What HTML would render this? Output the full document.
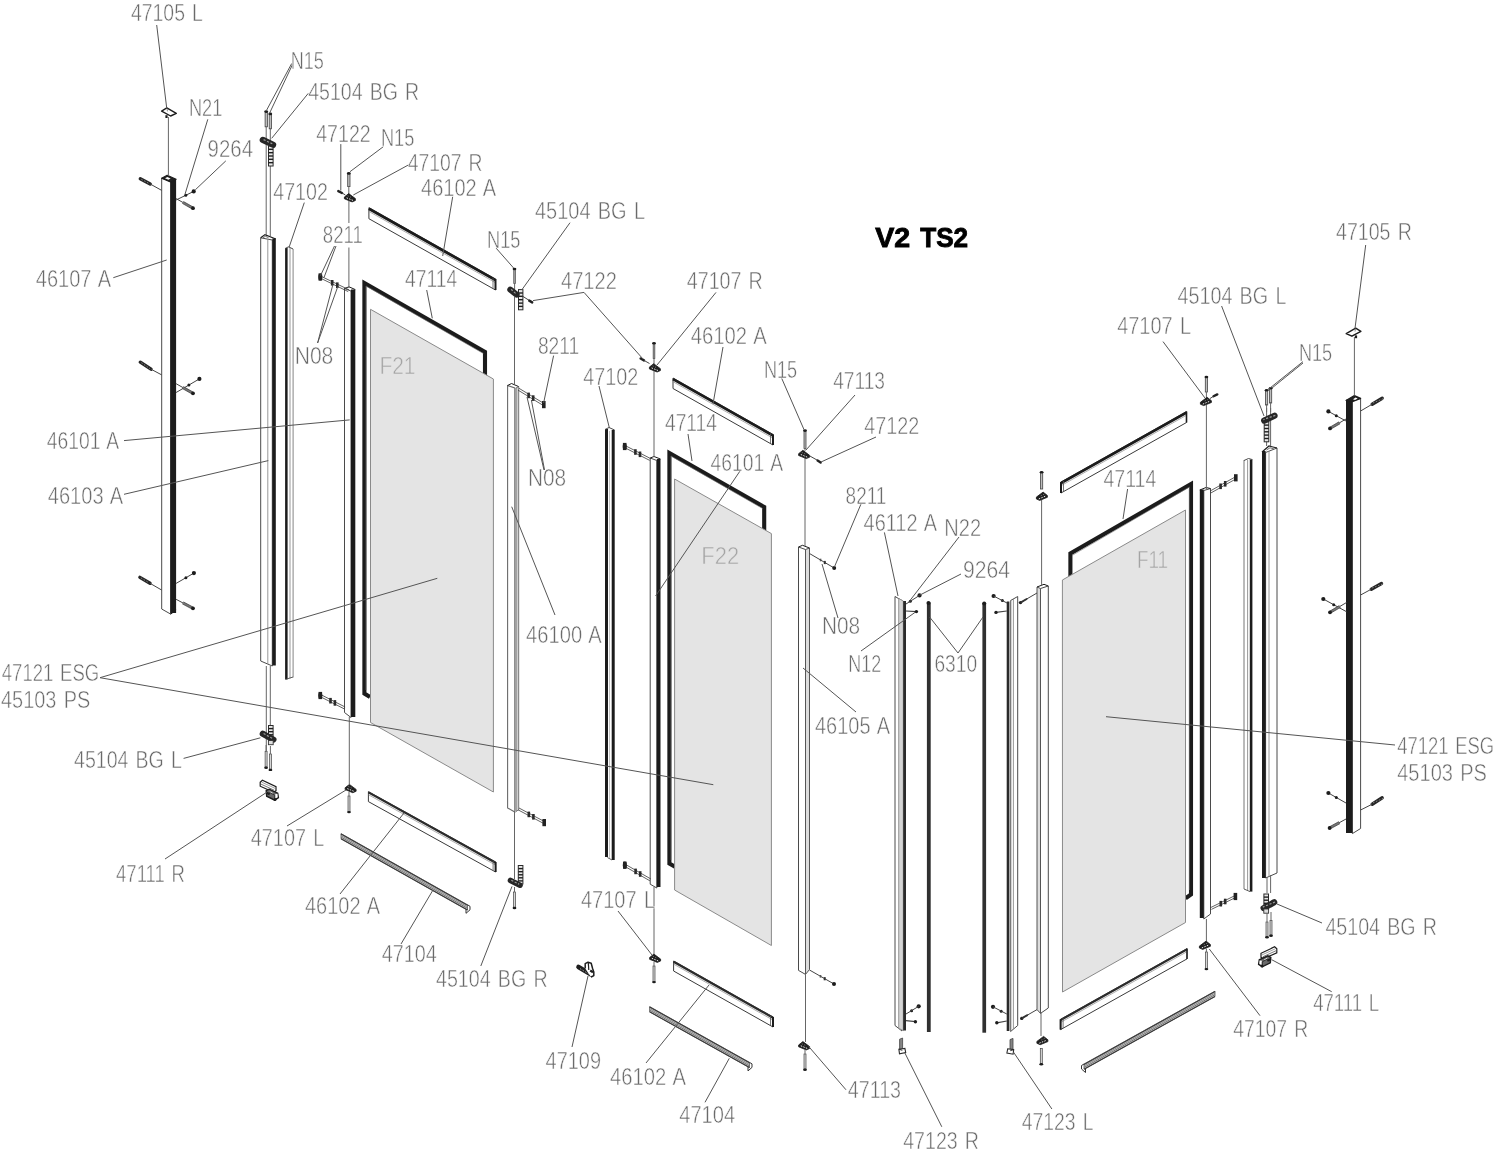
<!DOCTYPE html>
<html><head><meta charset="utf-8"><title>V2 TS2</title><style>html,body{margin:0;padding:0;background:#fff}
svg{display:block;filter:grayscale(1)}
text{font-family:"Liberation Sans",sans-serif}
.t{word-spacing:2px;font-size:23px;fill:#6a6a6a;stroke:#fff;stroke-width:.5px;paint-order:fill stroke}
.tf{font-size:23px;fill:#a4a4a4;stroke:#e4e4e4;stroke-width:.5px}
.ttl{font-size:28.5px;font-weight:bold;fill:#000;stroke:#000;stroke-width:.9px}
</style></head><body>
<svg width="1500" height="1154" viewBox="0 0 1500 1154">
<rect width="1500" height="1154" fill="#fff"/>
<polyline points="370,697 364.4,693.5 364.4,283 485,352 485,380" fill="none" stroke="#1c1c1c" stroke-width="4.1" stroke-linejoin="miter"/>
<polyline points="675,866.8 669.4,863.5 669.4,453 764.2,507 764.2,535" fill="none" stroke="#1c1c1c" stroke-width="4.1" stroke-linejoin="miter"/>
<polyline points="1185.6,898.2 1191,894.5 1191,484 1070.4,553.5 1070.4,578" fill="none" stroke="#1c1c1c" stroke-width="4.1" stroke-linejoin="miter"/>
<polyline points="366,690 366,286 483.4,353.5" fill="none" stroke="#777" stroke-width="0.6"/>
<polyline points="671,860 671,456 762.6,508.5" fill="none" stroke="#777" stroke-width="0.6"/>
<polyline points="1189.4,890 1189.4,487 1072,555.5" fill="none" stroke="#777" stroke-width="0.6"/>
<polygon points="370.5,309.3 493.4,379 493.4,792 370.5,722.5" fill="#e4e4e4" stroke="#8a8a8a" stroke-width="1"/>
<polygon points="674.6,479 771.4,533.6 771.4,945.5 674.6,890" fill="#e4e4e4" stroke="#8a8a8a" stroke-width="1"/>
<polygon points="1062.4,580 1185.5,510 1185.5,922.5 1062.5,992" fill="#e4e4e4" stroke="#8a8a8a" stroke-width="1"/>
<polygon points="368.9,207.7 495.5,279 495.5,290 368.9,218.7" fill="#fff" stroke="#3a3a3a" stroke-width="1"/>
<line x1="368.9" y1="208.8" x2="495.5" y2="280.1" stroke="#1c1c1c" stroke-width="2.8"/>
<line x1="368.9" y1="211.4" x2="495.5" y2="282.7" stroke="#888" stroke-width="0.7"/>
<line x1="495.5" y1="279" x2="495.5" y2="290" stroke="#1c1c1c" stroke-width="2"/>
<line x1="493" y1="278" x2="493" y2="288.5" stroke="#555" stroke-width="0.8"/>
<polygon points="673,378 773,434.5 773,445 673,388.5" fill="#fff" stroke="#3a3a3a" stroke-width="1"/>
<line x1="673" y1="379.1" x2="773" y2="435.6" stroke="#1c1c1c" stroke-width="2.8"/>
<line x1="673" y1="381.7" x2="773" y2="438.2" stroke="#888" stroke-width="0.7"/>
<line x1="773" y1="434.5" x2="773" y2="445" stroke="#1c1c1c" stroke-width="2"/>
<line x1="770.5" y1="433.5" x2="770.5" y2="443.5" stroke="#555" stroke-width="0.8"/>
<polygon points="1061,482 1186.5,411.5 1186.5,422.5 1061,493" fill="#fff" stroke="#3a3a3a" stroke-width="1"/>
<line x1="1061" y1="483.1" x2="1186.5" y2="412.6" stroke="#1c1c1c" stroke-width="2.8"/>
<line x1="1061" y1="485.7" x2="1186.5" y2="415.2" stroke="#888" stroke-width="0.7"/>
<line x1="1061" y1="482" x2="1061" y2="493" stroke="#1c1c1c" stroke-width="2"/>
<line x1="1063.5" y1="481" x2="1063.5" y2="491.5" stroke="#555" stroke-width="0.8"/>
<line x1="1186.5" y1="411.5" x2="1186.5" y2="422.5" stroke="#1c1c1c" stroke-width="1.6"/>
<polygon points="368.4,791.6 495.6,862 495.6,872 368.4,801.6" fill="#fff" stroke="#3a3a3a" stroke-width="1"/>
<line x1="368.4" y1="792.4" x2="495.6" y2="862.8" stroke="#2c2c2c" stroke-width="2.2"/>
<line x1="368.4" y1="794.7" x2="495.6" y2="865.1" stroke="#888" stroke-width="0.7"/>
<line x1="495.6" y1="862" x2="495.6" y2="872" stroke="#1c1c1c" stroke-width="2"/>
<line x1="493.1" y1="861" x2="493.1" y2="870.5" stroke="#555" stroke-width="0.8"/>
<polygon points="673.6,961 773,1017 773,1027 673.6,971" fill="#fff" stroke="#3a3a3a" stroke-width="1"/>
<line x1="673.6" y1="961.8" x2="773" y2="1017.8" stroke="#2c2c2c" stroke-width="2.2"/>
<line x1="673.6" y1="964.1" x2="773" y2="1020.1" stroke="#888" stroke-width="0.7"/>
<line x1="773" y1="1017" x2="773" y2="1027" stroke="#1c1c1c" stroke-width="2"/>
<line x1="770.5" y1="1016" x2="770.5" y2="1025.5" stroke="#555" stroke-width="0.8"/>
<polygon points="1060.6,1019.3 1187,948.6 1187,958.9 1060.6,1029.6" fill="#fff" stroke="#3a3a3a" stroke-width="1"/>
<line x1="1060.6" y1="1020.1" x2="1187" y2="949.4" stroke="#2c2c2c" stroke-width="2.2"/>
<line x1="1060.6" y1="1022.4" x2="1187" y2="951.7" stroke="#888" stroke-width="0.7"/>
<line x1="1060.6" y1="1019.3" x2="1060.6" y2="1029.6" stroke="#1c1c1c" stroke-width="2"/>
<line x1="1063.1" y1="1018.3" x2="1063.1" y2="1028.1" stroke="#555" stroke-width="0.8"/>
<line x1="1187" y1="948.6" x2="1187" y2="959" stroke="#1c1c1c" stroke-width="1.4"/>
<polygon points="341,833.6 467.5,904.8 467.5,910 341,838.8" fill="#d6d6d6" stroke="#555" stroke-width="0.8"/>
<line x1="341" y1="834" x2="467.5" y2="905.2" stroke="#3a3a3a" stroke-width="1.2"/>
<line x1="341" y1="835.6" x2="467.5" y2="906.8" stroke="#777" stroke-width="0.8"/>
<line x1="341" y1="837.1" x2="467.5" y2="908.3" stroke="#666" stroke-width="0.9"/>
<line x1="341" y1="838.8" x2="467.5" y2="910" stroke="#3a3a3a" stroke-width="1.1"/>
<polyline points="467.5,904.8 470,906.3 470,909.8 466,913.3 466,909.3" fill="none" stroke="#333" stroke-width="1"/>
<polygon points="649.6,1006.6 749.5,1062.4 749.5,1067.6 649.6,1011.8" fill="#d6d6d6" stroke="#555" stroke-width="0.8"/>
<line x1="649.6" y1="1007" x2="749.5" y2="1062.8" stroke="#3a3a3a" stroke-width="1.2"/>
<line x1="649.6" y1="1008.6" x2="749.5" y2="1064.4" stroke="#777" stroke-width="0.8"/>
<line x1="649.6" y1="1010.1" x2="749.5" y2="1065.9" stroke="#666" stroke-width="0.9"/>
<line x1="649.6" y1="1011.8" x2="749.5" y2="1067.6" stroke="#3a3a3a" stroke-width="1.1"/>
<polyline points="749.5,1062.4 752,1063.9 752,1067.4 748,1070.9 748,1066.9" fill="none" stroke="#333" stroke-width="1"/>
<polygon points="1084,1064 1215,991.2 1215,996.4 1084,1069.2" fill="#d6d6d6" stroke="#555" stroke-width="0.8"/>
<line x1="1084" y1="1064.4" x2="1215" y2="991.6" stroke="#3a3a3a" stroke-width="1.2"/>
<line x1="1084" y1="1066" x2="1215" y2="993.2" stroke="#777" stroke-width="0.8"/>
<line x1="1084" y1="1067.5" x2="1215" y2="994.7" stroke="#666" stroke-width="0.9"/>
<line x1="1084" y1="1069.2" x2="1215" y2="996.4" stroke="#3a3a3a" stroke-width="1.1"/>
<polyline points="1084,1064 1081.5,1065.5 1081.5,1069 1085.5,1072.5 1085.5,1068.5" fill="none" stroke="#333" stroke-width="1"/>
<polygon points="161.7,178 170.5,181.5 170.5,614 161.7,609" fill="#fff" stroke="#4a4a4a" stroke-width="1"/>
<rect x="170.5" y="179.5" width="5.6" height="433.5" fill="#1c1c1c"/>
<polygon points="161.7,178.2 167.2,175.3 176.1,179.2 170.5,182" fill="#222" stroke="#1c1c1c" stroke-width="1.2" stroke-linejoin="round"/>
<polygon points="165,178.3 167.4,177.1 170.6,178.5 168.4,179.7" fill="#fff" stroke="none" stroke-width="0"/>
<polyline points="170.5,614.3 176.1,610" fill="none" stroke="#1c1c1c" stroke-width="1"/>
<polygon points="1352.4,401 1360.6,398.4 1360.6,828.5 1352.4,833.6" fill="#fff" stroke="#4a4a4a" stroke-width="1"/>
<rect x="1346" y="400" width="6.4" height="433" fill="#1c1c1c"/>
<polygon points="1346,400.4 1354.4,395.6 1360.6,398.4 1352.4,401.6" fill="#222" stroke="#1c1c1c" stroke-width="1.2" stroke-linejoin="round"/>
<polygon points="1353,399.3 1355.6,397.6 1357.6,398.5 1355,400" fill="#fff" stroke="none" stroke-width="0"/>
<polygon points="260.7,237.8 272.3,240 272.3,666 260.7,661" fill="#fff" stroke="#4a4a4a" stroke-width="1"/>
<line x1="267.8" y1="239" x2="267.8" y2="664" stroke="#8c8c8c" stroke-width="0.9"/>
<rect x="272.3" y="238.5" width="3.5" height="427" fill="#1c1c1c"/>
<polyline points="260.7,237.8 265,234.6 275.8,239" fill="none" stroke="#1c1c1c" stroke-width="1.2"/>
<polyline points="263,237.6 265.5,236.3 268.5,237.7" fill="none" stroke="#4a4a4a" stroke-width="0.8"/>
<polygon points="1265.6,452.5 1277,448 1277,873 1265.6,878" fill="#fff" stroke="#4a4a4a" stroke-width="1"/>
<line x1="1269" y1="451" x2="1269" y2="876.5" stroke="#8c8c8c" stroke-width="0.9"/>
<rect x="1262" y="451" width="3.6" height="427" fill="#1c1c1c"/>
<polyline points="1262,452 1269,446 1277,448" fill="none" stroke="#1c1c1c" stroke-width="1.2"/>
<polyline points="1266.5,450 1270,447.8 1273.8,448.8" fill="none" stroke="#4a4a4a" stroke-width="0.8"/>
<rect x="285.1" y="248" width="2.5" height="431.4" fill="#1c1c1c"/>
<line x1="290" y1="248" x2="290" y2="678.5" stroke="#8c8c8c" stroke-width="0.9"/>
<line x1="293.1" y1="249" x2="293.1" y2="677.5" stroke="#777" stroke-width="0.9"/>
<polyline points="285.1,248.5 288.5,246.8 293.1,249" fill="none" stroke="#4a4a4a" stroke-width="1"/>
<line x1="285.5" y1="679.4" x2="293.1" y2="677" stroke="#4a4a4a" stroke-width="0.9"/>
<rect x="605" y="429" width="3" height="428" fill="#1c1c1c"/>
<rect x="611.7" y="430" width="3" height="430" fill="#1c1c1c"/>
<line x1="609.5" y1="431" x2="609.5" y2="858" stroke="#b5b5b5" stroke-width="0.8"/>
<polyline points="605,429.5 609,427.5 614.6,430" fill="none" stroke="#4a4a4a" stroke-width="1"/>
<line x1="607.4" y1="857.5" x2="612" y2="860" stroke="#4a4a4a" stroke-width="0.9"/>
<line x1="1244" y1="460" x2="1244" y2="889" stroke="#666" stroke-width="0.9"/>
<line x1="1247.6" y1="460" x2="1247.6" y2="890" stroke="#8c8c8c" stroke-width="0.9"/>
<rect x="1249.8" y="459.5" width="2.6" height="432.1" fill="#1c1c1c"/>
<polyline points="1244,460.5 1248.5,458.5 1252.4,459.6" fill="none" stroke="#4a4a4a" stroke-width="1"/>
<line x1="1244" y1="889" x2="1250" y2="891.6" stroke="#4a4a4a" stroke-width="0.9"/>
<polygon points="344.5,288.5 351,291 351,717.5 344.5,712.5" fill="#fff" stroke="#4a4a4a" stroke-width="1"/>
<rect x="351" y="289.5" width="4.3" height="427.5" fill="#1c1c1c"/>
<polyline points="344.5,288.5 349,286.8 355.3,289.6" fill="none" stroke="#1c1c1c" stroke-width="1"/>
<polygon points="650.2,458 656.8,460.5 656.8,888 650.2,884.2" fill="#fff" stroke="#4a4a4a" stroke-width="1"/>
<rect x="656.8" y="459" width="3.7" height="428" fill="#1c1c1c"/>
<polyline points="650.2,458 654,456.5 660.5,459" fill="none" stroke="#1c1c1c" stroke-width="1"/>
<polygon points="1203.8,490.5 1210.5,488.5 1210.5,914 1203.8,919" fill="#fff" stroke="#4a4a4a" stroke-width="1"/>
<rect x="1199.8" y="489.5" width="4" height="428.5" fill="#1c1c1c"/>
<polyline points="1199.8,490 1206,487.5 1210.5,488.5" fill="none" stroke="#1c1c1c" stroke-width="1"/>
<polygon points="507.6,385.5 514.8,388 514.8,812 507.6,808" fill="#fff" stroke="#6a6a6a" stroke-width="1.1"/>
<polygon points="516,388 518.7,386.5 518.7,809.7 516,811.5" fill="#cfcfcf" stroke="#777" stroke-width="1"/>
<polyline points="507.6,385.5 511.5,383.5 518.5,386.5" fill="none" stroke="#1c1c1c" stroke-width="1"/>
<polygon points="798.5,547 805.5,549.5 805.5,974.4 798.5,970.4" fill="#fff" stroke="#4a4a4a" stroke-width="1"/>
<polygon points="805.5,549.5 809.5,548 809.5,969.5 805.5,974.4" fill="#dcdcdc" stroke="#555" stroke-width="1"/>
<polyline points="798.5,547 802.5,545.3 809.5,548" fill="none" stroke="#1c1c1c" stroke-width="1"/>
<polygon points="1040.5,588.5 1048.3,586 1048.3,1008 1040.5,1013.4" fill="#fff" stroke="#4a4a4a" stroke-width="1"/>
<polygon points="1037,587 1040.5,588.5 1040.5,1013.4 1037,1009.6" fill="#dcdcdc" stroke="#555" stroke-width="1"/>
<polyline points="1037,587 1044,584.3 1048.3,586" fill="none" stroke="#1c1c1c" stroke-width="1"/>
<polygon points="895,596.5 902,600.5 902,1031 895,1025.5" fill="#fff" stroke="#4a4a4a" stroke-width="1"/>
<polygon points="898.7,598.5 903.3,601 903.3,1030.5 898.7,1028.3" fill="#d4d4d4" stroke="#8c8c8c" stroke-width="0.9"/>
<rect x="903.2" y="601" width="2.8" height="429.5" fill="#2a2a2a"/>
<polygon points="1010.6,600.5 1017.7,596.5 1017.7,1025.5 1010.6,1031.5" fill="#fff" stroke="#4a4a4a" stroke-width="1"/>
<line x1="1013.4" y1="599" x2="1013.4" y2="1029" stroke="#8c8c8c" stroke-width="0.9"/>
<rect x="1006.7" y="601.5" width="2.7" height="429.5" fill="#2a2a2a"/>
<line x1="1010.8" y1="600.5" x2="1010.8" y2="1031" stroke="#8c8c8c" stroke-width="0.9"/>
<rect x="926.9" y="602.4" width="3.8" height="429.6" fill="#303030"/>
<rect x="982.4" y="603" width="3.7" height="429.7" fill="#303030"/>
<circle cx="928.5" cy="603" r="2" fill="#1c1c1c"/>
<circle cx="984.2" cy="603.5" r="2" fill="#1c1c1c"/>
<line x1="168.4" y1="117" x2="168.4" y2="176" stroke="#666" stroke-width="1"/>
<line x1="266.2" y1="126" x2="266.2" y2="235" stroke="#666" stroke-width="1"/>
<line x1="270.3" y1="128" x2="270.3" y2="236" stroke="#666" stroke-width="1"/>
<line x1="266.3" y1="666" x2="266.3" y2="751" stroke="#666" stroke-width="1"/>
<line x1="270.3" y1="666" x2="270.3" y2="725" stroke="#666" stroke-width="1"/>
<line x1="348.9" y1="201" x2="348.9" y2="223" stroke="#666" stroke-width="1"/>
<line x1="348.9" y1="247.5" x2="348.9" y2="288" stroke="#666" stroke-width="1"/>
<line x1="349.3" y1="717" x2="349.3" y2="784" stroke="#666" stroke-width="1"/>
<line x1="514.5" y1="297" x2="514.5" y2="384" stroke="#666" stroke-width="1"/>
<line x1="514.5" y1="812" x2="514.5" y2="879" stroke="#666" stroke-width="1"/>
<line x1="654" y1="371" x2="654" y2="457" stroke="#666" stroke-width="1"/>
<line x1="654" y1="887" x2="654" y2="954" stroke="#666" stroke-width="1"/>
<line x1="805" y1="458" x2="805" y2="546" stroke="#666" stroke-width="1"/>
<line x1="805.5" y1="974" x2="805.5" y2="1042" stroke="#666" stroke-width="1"/>
<line x1="1041.6" y1="500" x2="1041.6" y2="585" stroke="#666" stroke-width="1"/>
<line x1="1041" y1="1013" x2="1041" y2="1036" stroke="#666" stroke-width="1"/>
<line x1="1206.4" y1="405" x2="1206.4" y2="489" stroke="#666" stroke-width="1"/>
<line x1="1206.4" y1="919" x2="1206.4" y2="941" stroke="#666" stroke-width="1"/>
<line x1="1266.6" y1="408" x2="1266.6" y2="446" stroke="#666" stroke-width="1"/>
<line x1="1270.6" y1="408" x2="1270.6" y2="446" stroke="#666" stroke-width="1"/>
<line x1="1267" y1="877" x2="1267" y2="893" stroke="#666" stroke-width="1"/>
<line x1="1270.6" y1="875" x2="1270.6" y2="893" stroke="#666" stroke-width="1"/>
<line x1="1354.4" y1="337" x2="1354.4" y2="395.6" stroke="#666" stroke-width="1"/>
<polygon points="161.6,111.1 166.8,107.9 176.3,113.4 170.6,116" fill="#fff" stroke="#1c1c1c" stroke-width="1.4" stroke-linejoin="round"/>
<rect x="165.4" y="115.2" width="2.2" height="2.8" fill="#1c1c1c"/>
<line x1="167" y1="108.4" x2="167.5" y2="111.4" stroke="#777" stroke-width="0.8"/>
<polygon points="1360.9,331.3 1355.7,328.1 1346.2,333.6 1351.9,336.2" fill="#fff" stroke="#1c1c1c" stroke-width="1.4" stroke-linejoin="round"/>
<rect x="1354.9" y="335.4" width="2.2" height="2.8" fill="#1c1c1c"/>
<line x1="1355.5" y1="328.6" x2="1355" y2="331.6" stroke="#777" stroke-width="0.8"/>
<line x1="140.3" y1="178.8" x2="150.2" y2="184" stroke="#262626" stroke-width="3.4" stroke-linecap="round"/>
<line x1="141.3" y1="179.3" x2="149.2" y2="183.5" stroke="#999" stroke-width="0.8" stroke-dasharray="1.6 1.6"/>
<line x1="150.2" y1="184" x2="161.7" y2="190.4" stroke="#444" stroke-width="1"/>
<line x1="176.1" y1="200" x2="193.7" y2="191.4" stroke="#444" stroke-width="1"/>
<circle cx="193.7" cy="191.4" r="2.1" fill="#1c1c1c"/>
<circle cx="185.8" cy="195.3" r="1.5" fill="#1c1c1c"/>
<line x1="176.1" y1="198.6" x2="193" y2="208.2" stroke="#444" stroke-width="1"/>
<line x1="182.9" y1="202.4" x2="193" y2="208.2" stroke="#777" stroke-width="2.2"/>
<line x1="182.3" y1="203.4" x2="192.5" y2="209.2" stroke="#333" stroke-width="0.7"/>
<line x1="183.4" y1="201.5" x2="193.5" y2="207.2" stroke="#333" stroke-width="0.7"/>
<circle cx="193" cy="208.2" r="1.9" fill="#1c1c1c"/>
<line x1="140.3" y1="362.2" x2="151" y2="369.2" stroke="#262626" stroke-width="3.4" stroke-linecap="round"/>
<line x1="141.3" y1="362.7" x2="150" y2="368.7" stroke="#999" stroke-width="0.8" stroke-dasharray="1.6 1.6"/>
<line x1="151" y1="369.2" x2="161.7" y2="374.9" stroke="#444" stroke-width="1"/>
<line x1="176.1" y1="392.5" x2="199.4" y2="378.9" stroke="#444" stroke-width="1"/>
<circle cx="199.4" cy="378.9" r="2.1" fill="#1c1c1c"/>
<circle cx="188.9" cy="385" r="1.5" fill="#1c1c1c"/>
<line x1="176.1" y1="383.7" x2="193" y2="393.3" stroke="#444" stroke-width="1"/>
<line x1="182.9" y1="387.5" x2="193" y2="393.3" stroke="#777" stroke-width="2.2"/>
<line x1="182.3" y1="388.5" x2="192.5" y2="394.3" stroke="#333" stroke-width="0.7"/>
<line x1="183.4" y1="386.6" x2="193.5" y2="392.3" stroke="#333" stroke-width="0.7"/>
<circle cx="193" cy="393.3" r="1.9" fill="#1c1c1c"/>
<line x1="139.9" y1="577.4" x2="150" y2="583.3" stroke="#262626" stroke-width="3.4" stroke-linecap="round"/>
<line x1="140.9" y1="577.9" x2="149" y2="582.8" stroke="#999" stroke-width="0.8" stroke-dasharray="1.6 1.6"/>
<line x1="150" y1="583.3" x2="161.6" y2="590" stroke="#444" stroke-width="1"/>
<line x1="176.1" y1="583.4" x2="193.9" y2="573.1" stroke="#444" stroke-width="1"/>
<circle cx="193.9" cy="573.1" r="2.1" fill="#1c1c1c"/>
<circle cx="185.9" cy="577.7" r="1.5" fill="#1c1c1c"/>
<line x1="176.1" y1="599.3" x2="193" y2="608.3" stroke="#444" stroke-width="1"/>
<line x1="182.9" y1="602.9" x2="193" y2="608.3" stroke="#777" stroke-width="2.2"/>
<line x1="182.3" y1="603.9" x2="192.5" y2="609.3" stroke="#333" stroke-width="0.7"/>
<line x1="183.4" y1="601.9" x2="193.5" y2="607.3" stroke="#333" stroke-width="0.7"/>
<circle cx="193" cy="608.3" r="1.9" fill="#1c1c1c"/>
<line x1="1382.2" y1="398.2" x2="1372.2" y2="404.2" stroke="#262626" stroke-width="3.4" stroke-linecap="round"/>
<line x1="1383.2" y1="398.7" x2="1371.2" y2="403.7" stroke="#999" stroke-width="0.8" stroke-dasharray="1.6 1.6"/>
<line x1="1372.2" y1="404.2" x2="1360.6" y2="411" stroke="#444" stroke-width="1"/>
<line x1="1346" y1="421" x2="1328.4" y2="411.4" stroke="#444" stroke-width="1"/>
<circle cx="1328.4" cy="411.4" r="2.1" fill="#1c1c1c"/>
<circle cx="1336.3" cy="415.7" r="1.5" fill="#1c1c1c"/>
<line x1="1346" y1="419" x2="1330" y2="428.4" stroke="#444" stroke-width="1"/>
<line x1="1339.6" y1="422.8" x2="1330" y2="428.4" stroke="#777" stroke-width="2.2"/>
<line x1="1339" y1="421.8" x2="1329.4" y2="427.5" stroke="#333" stroke-width="0.7"/>
<line x1="1340.2" y1="423.7" x2="1330.6" y2="429.3" stroke="#333" stroke-width="0.7"/>
<circle cx="1330" cy="428.4" r="1.9" fill="#1c1c1c"/>
<line x1="1381.5" y1="583.5" x2="1371.3" y2="589.2" stroke="#262626" stroke-width="3.4" stroke-linecap="round"/>
<line x1="1382.5" y1="584" x2="1370.3" y2="588.7" stroke="#999" stroke-width="0.8" stroke-dasharray="1.6 1.6"/>
<line x1="1371.3" y1="589.2" x2="1360.6" y2="595" stroke="#444" stroke-width="1"/>
<line x1="1346.5" y1="611.7" x2="1323.3" y2="599" stroke="#444" stroke-width="1"/>
<circle cx="1323.3" cy="599" r="2.1" fill="#1c1c1c"/>
<circle cx="1333.7" cy="604.7" r="1.5" fill="#1c1c1c"/>
<line x1="1346.5" y1="602.5" x2="1330" y2="612.3" stroke="#444" stroke-width="1"/>
<line x1="1339.9" y1="606.4" x2="1330" y2="612.3" stroke="#777" stroke-width="2.2"/>
<line x1="1339.3" y1="605.5" x2="1329.4" y2="611.4" stroke="#333" stroke-width="0.7"/>
<line x1="1340.5" y1="607.4" x2="1330.6" y2="613.2" stroke="#333" stroke-width="0.7"/>
<circle cx="1330" cy="612.3" r="1.9" fill="#1c1c1c"/>
<line x1="1382.2" y1="797.8" x2="1372.2" y2="804.2" stroke="#262626" stroke-width="3.4" stroke-linecap="round"/>
<line x1="1383.2" y1="798.3" x2="1371.2" y2="803.7" stroke="#999" stroke-width="0.8" stroke-dasharray="1.6 1.6"/>
<line x1="1372.2" y1="804.2" x2="1360.6" y2="810" stroke="#444" stroke-width="1"/>
<line x1="1346" y1="803" x2="1328.4" y2="793" stroke="#444" stroke-width="1"/>
<circle cx="1328.4" cy="793" r="2.1" fill="#1c1c1c"/>
<circle cx="1336.3" cy="797.5" r="1.5" fill="#1c1c1c"/>
<line x1="1346" y1="819" x2="1329.6" y2="828" stroke="#444" stroke-width="1"/>
<line x1="1339.4" y1="822.6" x2="1329.6" y2="828" stroke="#777" stroke-width="2.2"/>
<line x1="1338.9" y1="821.6" x2="1329.1" y2="827" stroke="#333" stroke-width="0.7"/>
<line x1="1340" y1="823.6" x2="1330.1" y2="829" stroke="#333" stroke-width="0.7"/>
<circle cx="1329.6" cy="828" r="1.9" fill="#1c1c1c"/>
<rect x="265.1" y="112" width="2.3" height="14.8" fill="#bdbdbd" stroke="#444" stroke-width="0.8"/>
<ellipse cx="266.2" cy="111.6" rx="1.9" ry="1.3" fill="#1c1c1c"/>
<rect x="269.2" y="114.3" width="2.3" height="14.5" fill="#bdbdbd" stroke="#444" stroke-width="0.8"/>
<ellipse cx="270.3" cy="113.9" rx="1.9" ry="1.3" fill="#1c1c1c"/>
<rect x="268.5" y="146" width="4.6" height="20" fill="#e8e8e8" stroke="#2a2a2a" stroke-width="1"/>
<line x1="268.5" y1="149.3" x2="273.1" y2="149.3" stroke="#1e1e1e" stroke-width="1.4"/>
<line x1="268.5" y1="152.7" x2="273.1" y2="152.7" stroke="#1e1e1e" stroke-width="1.4"/>
<line x1="268.5" y1="156" x2="273.1" y2="156" stroke="#1e1e1e" stroke-width="1.4"/>
<line x1="268.5" y1="159.3" x2="273.1" y2="159.3" stroke="#1e1e1e" stroke-width="1.4"/>
<line x1="268.5" y1="162.7" x2="273.1" y2="162.7" stroke="#1e1e1e" stroke-width="1.4"/>
<line x1="262.8" y1="139.9" x2="273.1" y2="144.8" stroke="#262626" stroke-width="6.2" stroke-linecap="round"/>
<line x1="263.6" y1="139.6" x2="272.3" y2="143.8" stroke="#9a9a9a" stroke-width="1.2" stroke-linecap="butt" stroke-dasharray="2.2 1.6"/>
<rect x="268.5" y="725.5" width="4.6" height="15.5" fill="#e8e8e8" stroke="#2a2a2a" stroke-width="1"/>
<line x1="268.5" y1="728.6" x2="273.1" y2="728.6" stroke="#1e1e1e" stroke-width="1.4"/>
<line x1="268.5" y1="731.7" x2="273.1" y2="731.7" stroke="#1e1e1e" stroke-width="1.4"/>
<line x1="268.5" y1="734.8" x2="273.1" y2="734.8" stroke="#1e1e1e" stroke-width="1.4"/>
<line x1="268.5" y1="737.9" x2="273.1" y2="737.9" stroke="#1e1e1e" stroke-width="1.4"/>
<line x1="262.8" y1="733.8" x2="273.4" y2="739.6" stroke="#262626" stroke-width="6.2" stroke-linecap="round"/>
<line x1="263.6" y1="733.5" x2="272.6" y2="738.6" stroke="#9a9a9a" stroke-width="1.2" stroke-linecap="butt" stroke-dasharray="2.2 1.6"/>
<rect x="268.4" y="740.5" width="4.8" height="4.2" fill="#ddd" stroke="#333" stroke-width="0.9"/>
<rect x="265.1" y="751.3" width="2" height="15.7" fill="#d6d6d6" stroke="#444" stroke-width="0.7"/>
<ellipse cx="266.1" cy="767.7" rx="1.9" ry="1.2" fill="#1c1c1c"/>
<rect x="269.4" y="754" width="2" height="15.2" fill="#d6d6d6" stroke="#444" stroke-width="0.7"/>
<ellipse cx="270.4" cy="769.9" rx="1.9" ry="1.2" fill="#1c1c1c"/>
<line x1="266.1" y1="745" x2="266.1" y2="751" stroke="#666" stroke-width="1"/>
<line x1="270.4" y1="746" x2="270.4" y2="754" stroke="#666" stroke-width="1"/>
<rect x="513.8" y="269.4" width="1.5" height="14.1" fill="#bdbdbd" stroke="#444" stroke-width="0.8"/>
<ellipse cx="514.5" cy="269" rx="1.9" ry="1.3" fill="#1c1c1c"/>
<line x1="514.6" y1="283" x2="514.6" y2="290" stroke="#666" stroke-width="1"/>
<rect x="518.5" y="289.6" width="4.4" height="20.2" fill="#e8e8e8" stroke="#2a2a2a" stroke-width="1"/>
<line x1="518.5" y1="293" x2="522.9" y2="293" stroke="#1e1e1e" stroke-width="1.4"/>
<line x1="518.5" y1="296.3" x2="522.9" y2="296.3" stroke="#1e1e1e" stroke-width="1.4"/>
<line x1="518.5" y1="299.7" x2="522.9" y2="299.7" stroke="#1e1e1e" stroke-width="1.4"/>
<line x1="518.5" y1="303.1" x2="522.9" y2="303.1" stroke="#1e1e1e" stroke-width="1.4"/>
<line x1="518.5" y1="306.4" x2="522.9" y2="306.4" stroke="#1e1e1e" stroke-width="1.4"/>
<line x1="510.3" y1="289.6" x2="516.6" y2="294.6" stroke="#262626" stroke-width="6" stroke-linecap="round"/>
<line x1="511.1" y1="289.3" x2="515.8" y2="293.6" stroke="#9a9a9a" stroke-width="1.2" stroke-linecap="butt" stroke-dasharray="2.2 1.6"/>
<line x1="529.2" y1="300.6" x2="532.2" y2="302.4" stroke="#222" stroke-width="2.4" stroke-linecap="round"/>
<line x1="522.6" y1="296.2" x2="529" y2="300.3" stroke="#444" stroke-width="1"/>
<rect x="518.3" y="865.5" width="4.6" height="18.5" fill="#e8e8e8" stroke="#2a2a2a" stroke-width="1"/>
<line x1="518.3" y1="868.6" x2="522.9" y2="868.6" stroke="#1e1e1e" stroke-width="1.4"/>
<line x1="518.3" y1="871.7" x2="522.9" y2="871.7" stroke="#1e1e1e" stroke-width="1.4"/>
<line x1="518.3" y1="874.8" x2="522.9" y2="874.8" stroke="#1e1e1e" stroke-width="1.4"/>
<line x1="518.3" y1="877.8" x2="522.9" y2="877.8" stroke="#1e1e1e" stroke-width="1.4"/>
<line x1="518.3" y1="880.9" x2="522.9" y2="880.9" stroke="#1e1e1e" stroke-width="1.4"/>
<line x1="510.5" y1="880.5" x2="520" y2="885.2" stroke="#262626" stroke-width="5.6" stroke-linecap="round"/>
<line x1="511.3" y1="880.2" x2="519.2" y2="884.2" stroke="#9a9a9a" stroke-width="1.2" stroke-linecap="butt" stroke-dasharray="2.2 1.6"/>
<rect x="513.5" y="892" width="2" height="15.3" fill="#d6d6d6" stroke="#444" stroke-width="0.7"/>
<ellipse cx="514.5" cy="908" rx="1.9" ry="1.2" fill="#1c1c1c"/>
<line x1="514.5" y1="887" x2="514.5" y2="892" stroke="#666" stroke-width="1"/>
<rect x="1265.4" y="390.6" width="2.3" height="14.4" fill="#bdbdbd" stroke="#444" stroke-width="0.8"/>
<ellipse cx="1266.6" cy="390.2" rx="1.9" ry="1.3" fill="#1c1c1c"/>
<rect x="1269.4" y="388.6" width="2.3" height="14.4" fill="#bdbdbd" stroke="#444" stroke-width="0.8"/>
<ellipse cx="1270.6" cy="388.2" rx="1.9" ry="1.3" fill="#1c1c1c"/>
<line x1="1266.6" y1="404" x2="1266.6" y2="412" stroke="#666" stroke-width="1"/>
<line x1="1270.6" y1="402" x2="1270.6" y2="412" stroke="#666" stroke-width="1"/>
<rect x="1264.2" y="421.8" width="4.6" height="20" fill="#e8e8e8" stroke="#2a2a2a" stroke-width="1"/>
<line x1="1264.2" y1="425.1" x2="1268.8" y2="425.1" stroke="#1e1e1e" stroke-width="1.4"/>
<line x1="1264.2" y1="428.5" x2="1268.8" y2="428.5" stroke="#1e1e1e" stroke-width="1.4"/>
<line x1="1264.2" y1="431.8" x2="1268.8" y2="431.8" stroke="#1e1e1e" stroke-width="1.4"/>
<line x1="1264.2" y1="435.1" x2="1268.8" y2="435.1" stroke="#1e1e1e" stroke-width="1.4"/>
<line x1="1264.2" y1="438.5" x2="1268.8" y2="438.5" stroke="#1e1e1e" stroke-width="1.4"/>
<line x1="1274.5" y1="415.7" x2="1264.2" y2="420.6" stroke="#262626" stroke-width="6.2" stroke-linecap="round"/>
<line x1="1275.3" y1="415.4" x2="1263.4" y2="419.6" stroke="#9a9a9a" stroke-width="1.2" stroke-linecap="butt" stroke-dasharray="2.2 1.6"/>
<rect x="1263.9" y="894" width="4.6" height="15.5" fill="#e8e8e8" stroke="#2a2a2a" stroke-width="1"/>
<line x1="1263.9" y1="897.1" x2="1268.5" y2="897.1" stroke="#1e1e1e" stroke-width="1.4"/>
<line x1="1263.9" y1="900.2" x2="1268.5" y2="900.2" stroke="#1e1e1e" stroke-width="1.4"/>
<line x1="1263.9" y1="903.3" x2="1268.5" y2="903.3" stroke="#1e1e1e" stroke-width="1.4"/>
<line x1="1263.9" y1="906.4" x2="1268.5" y2="906.4" stroke="#1e1e1e" stroke-width="1.4"/>
<line x1="1274.2" y1="902.3" x2="1263.6" y2="908.1" stroke="#262626" stroke-width="6.2" stroke-linecap="round"/>
<line x1="1275" y1="902" x2="1262.8" y2="907.1" stroke="#9a9a9a" stroke-width="1.2" stroke-linecap="butt" stroke-dasharray="2.2 1.6"/>
<rect x="1263.8" y="909" width="4.8" height="4.2" fill="#ddd" stroke="#333" stroke-width="0.9"/>
<rect x="1266" y="922" width="2" height="14.6" fill="#d6d6d6" stroke="#444" stroke-width="0.7"/>
<ellipse cx="1267" cy="937.3" rx="1.9" ry="1.2" fill="#1c1c1c"/>
<rect x="1270" y="920.5" width="2" height="14.5" fill="#d6d6d6" stroke="#444" stroke-width="0.7"/>
<ellipse cx="1271" cy="935.7" rx="1.9" ry="1.2" fill="#1c1c1c"/>
<line x1="1267" y1="913" x2="1267" y2="922" stroke="#666" stroke-width="1"/>
<line x1="1271" y1="912" x2="1271" y2="920" stroke="#666" stroke-width="1"/>
<rect x="347.7" y="173.8" width="2.3" height="12.8" fill="#bdbdbd" stroke="#444" stroke-width="0.8"/>
<ellipse cx="348.8" cy="173.4" rx="1.9" ry="1.3" fill="#1c1c1c"/>
<line x1="348.8" y1="186.6" x2="348.8" y2="194.5" stroke="#666" stroke-width="1"/>
<line x1="338.3" y1="191.1" x2="342" y2="193" stroke="#222" stroke-width="2.4" stroke-linecap="round"/>
<line x1="342" y1="193" x2="345.3" y2="194.9" stroke="#444" stroke-width="1"/>
<polygon points="344.4,197 348.7,193.6 355.4,198.6 355.4,200.5 352.1,201.9 344.4,198.8" fill="#1e1e1e" stroke="#1a1a1a" stroke-width="0.8" stroke-linejoin="round"/>
<line x1="346.6" y1="197.8" x2="353.2" y2="200.5" stroke="#f0f0f0" stroke-width="1" stroke-dasharray="1.5 1.2"/>
<line x1="347.6" y1="195.7" x2="352" y2="197.7" stroke="#999" stroke-width="0.7" stroke-dasharray="1.2 1.4"/>
<polygon points="345.1,787.8 349.4,784.4 356.1,789.4 356.1,791.3 352.8,792.7 345.1,789.6" fill="#1e1e1e" stroke="#1a1a1a" stroke-width="0.8" stroke-linejoin="round"/>
<line x1="347.3" y1="788.6" x2="353.9" y2="791.3" stroke="#f0f0f0" stroke-width="1" stroke-dasharray="1.5 1.2"/>
<line x1="348.3" y1="786.5" x2="352.7" y2="788.5" stroke="#999" stroke-width="0.7" stroke-dasharray="1.2 1.4"/>
<rect x="348" y="796" width="2" height="15.4" fill="#d6d6d6" stroke="#444" stroke-width="0.7"/>
<ellipse cx="349" cy="812.1" rx="1.9" ry="1.2" fill="#1c1c1c"/>
<line x1="349" y1="792" x2="349" y2="796" stroke="#666" stroke-width="1"/>
<rect x="653.2" y="343.6" width="1.6" height="14.9" fill="#bdbdbd" stroke="#444" stroke-width="0.8"/>
<ellipse cx="654" cy="343.2" rx="1.9" ry="1.3" fill="#1c1c1c"/>
<line x1="654" y1="358" x2="654" y2="364.5" stroke="#666" stroke-width="1"/>
<line x1="640.6" y1="358.5" x2="644" y2="360.4" stroke="#222" stroke-width="2.4" stroke-linecap="round"/>
<line x1="644" y1="360.4" x2="649.5" y2="363.5" stroke="#444" stroke-width="1"/>
<polygon points="649.4,367.1 653.7,363.7 660.4,368.7 660.4,370.6 657.1,372 649.4,368.9" fill="#1e1e1e" stroke="#1a1a1a" stroke-width="0.8" stroke-linejoin="round"/>
<line x1="651.6" y1="367.9" x2="658.2" y2="370.6" stroke="#f0f0f0" stroke-width="1" stroke-dasharray="1.5 1.2"/>
<line x1="652.6" y1="365.8" x2="657" y2="367.8" stroke="#999" stroke-width="0.7" stroke-dasharray="1.2 1.4"/>
<polygon points="649.6,957.5 653.9,954.1 660.6,959.1 660.6,961 657.3,962.4 649.6,959.3" fill="#1e1e1e" stroke="#1a1a1a" stroke-width="0.8" stroke-linejoin="round"/>
<line x1="651.8" y1="958.3" x2="658.4" y2="961" stroke="#f0f0f0" stroke-width="1" stroke-dasharray="1.5 1.2"/>
<line x1="652.8" y1="956.2" x2="657.2" y2="958.2" stroke="#999" stroke-width="0.7" stroke-dasharray="1.2 1.4"/>
<rect x="653" y="966" width="2" height="15.4" fill="#d6d6d6" stroke="#444" stroke-width="0.7"/>
<ellipse cx="654" cy="982.1" rx="1.9" ry="1.2" fill="#1c1c1c"/>
<line x1="654" y1="962" x2="654" y2="966" stroke="#666" stroke-width="1"/>
<rect x="804" y="431" width="2" height="17.5" fill="#bdbdbd" stroke="#444" stroke-width="0.8"/>
<ellipse cx="805" cy="430.6" rx="1.9" ry="1.3" fill="#1c1c1c"/>
<line x1="805" y1="448" x2="805" y2="451" stroke="#666" stroke-width="1"/>
<polygon points="798.6,453.7 802.9,450.3 809.6,455.3 809.6,457.2 806.3,458.6 798.6,455.5" fill="#1e1e1e" stroke="#1a1a1a" stroke-width="0.8" stroke-linejoin="round"/>
<line x1="800.8" y1="454.5" x2="807.4" y2="457.2" stroke="#f0f0f0" stroke-width="1" stroke-dasharray="1.5 1.2"/>
<line x1="801.8" y1="452.4" x2="806.2" y2="454.4" stroke="#999" stroke-width="0.7" stroke-dasharray="1.2 1.4"/>
<line x1="809" y1="455.5" x2="818" y2="460.6" stroke="#444" stroke-width="1"/>
<line x1="817.6" y1="460.6" x2="820.6" y2="462.6" stroke="#222" stroke-width="2.4" stroke-linecap="round"/>
<polygon points="798.6,1045 802.9,1041.6 809.6,1046.6 809.6,1048.5 806.3,1049.9 798.6,1046.8" fill="#1e1e1e" stroke="#1a1a1a" stroke-width="0.8" stroke-linejoin="round"/>
<line x1="800.8" y1="1045.8" x2="807.4" y2="1048.5" stroke="#f0f0f0" stroke-width="1" stroke-dasharray="1.5 1.2"/>
<line x1="801.8" y1="1043.7" x2="806.2" y2="1045.7" stroke="#999" stroke-width="0.7" stroke-dasharray="1.2 1.4"/>
<rect x="804" y="1054" width="2" height="15" fill="#d6d6d6" stroke="#444" stroke-width="0.7"/>
<ellipse cx="805" cy="1069.7" rx="1.9" ry="1.2" fill="#1c1c1c"/>
<line x1="805" y1="1049.5" x2="805" y2="1054" stroke="#666" stroke-width="1"/>
<rect x="1040.5" y="472.6" width="2.2" height="16.4" fill="#bdbdbd" stroke="#444" stroke-width="0.8"/>
<ellipse cx="1041.6" cy="472.2" rx="1.9" ry="1.3" fill="#1c1c1c"/>
<polygon points="1047.4,495.5 1043.1,492.1 1036.4,497.1 1036.4,499 1039.7,500.4 1047.4,497.3" fill="#1e1e1e" stroke="#1a1a1a" stroke-width="0.8" stroke-linejoin="round"/>
<line x1="1045.2" y1="496.3" x2="1038.6" y2="499" stroke="#f0f0f0" stroke-width="1" stroke-dasharray="1.5 1.2"/>
<line x1="1044.2" y1="494.2" x2="1039.8" y2="496.2" stroke="#999" stroke-width="0.7" stroke-dasharray="1.2 1.4"/>
<polygon points="1047.9,1039.8 1043.6,1036.4 1036.9,1041.4 1036.9,1043.3 1040.2,1044.7 1047.9,1041.6" fill="#1e1e1e" stroke="#1a1a1a" stroke-width="0.8" stroke-linejoin="round"/>
<line x1="1045.7" y1="1040.6" x2="1039.1" y2="1043.3" stroke="#f0f0f0" stroke-width="1" stroke-dasharray="1.5 1.2"/>
<line x1="1044.7" y1="1038.5" x2="1040.3" y2="1040.5" stroke="#999" stroke-width="0.7" stroke-dasharray="1.2 1.4"/>
<rect x="1040.3" y="1048.6" width="2" height="14.9" fill="#d6d6d6" stroke="#444" stroke-width="0.7"/>
<ellipse cx="1041.3" cy="1064.2" rx="1.9" ry="1.2" fill="#1c1c1c"/>
<rect x="1205.3" y="377.4" width="2.2" height="14.6" fill="#bdbdbd" stroke="#444" stroke-width="0.8"/>
<ellipse cx="1206.4" cy="377" rx="1.9" ry="1.3" fill="#1c1c1c"/>
<line x1="1206.4" y1="392" x2="1206.4" y2="398" stroke="#666" stroke-width="1"/>
<polygon points="1211.4,400.7 1207.1,397.3 1200.4,402.3 1200.4,404.2 1203.7,405.6 1211.4,402.5" fill="#1e1e1e" stroke="#1a1a1a" stroke-width="0.8" stroke-linejoin="round"/>
<line x1="1209.2" y1="401.5" x2="1202.6" y2="404.2" stroke="#f0f0f0" stroke-width="1" stroke-dasharray="1.5 1.2"/>
<line x1="1208.2" y1="399.4" x2="1203.8" y2="401.4" stroke="#999" stroke-width="0.7" stroke-dasharray="1.2 1.4"/>
<line x1="1213.5" y1="396.3" x2="1217.3" y2="394.4" stroke="#222" stroke-width="2.4" stroke-linecap="round"/>
<line x1="1210" y1="398.5" x2="1213.5" y2="396.3" stroke="#444" stroke-width="1"/>
<polygon points="1210.4,944.5 1206.1,941.1 1199.4,946.1 1199.4,948 1202.7,949.4 1210.4,946.3" fill="#1e1e1e" stroke="#1a1a1a" stroke-width="0.8" stroke-linejoin="round"/>
<line x1="1208.2" y1="945.3" x2="1201.6" y2="948" stroke="#f0f0f0" stroke-width="1" stroke-dasharray="1.5 1.2"/>
<line x1="1207.2" y1="943.2" x2="1202.8" y2="945.2" stroke="#999" stroke-width="0.7" stroke-dasharray="1.2 1.4"/>
<rect x="1205.4" y="952" width="2" height="16.4" fill="#d6d6d6" stroke="#444" stroke-width="0.7"/>
<ellipse cx="1206.4" cy="969.1" rx="1.9" ry="1.2" fill="#1c1c1c"/>
<line x1="1206.4" y1="948.5" x2="1206.4" y2="952" stroke="#666" stroke-width="1"/>
<line x1="319.9" y1="277.9" x2="348.2" y2="291.6" stroke="#3a3a3a" stroke-width="0.8"/>
<line x1="320.7" y1="276.1" x2="349" y2="289.8" stroke="#3a3a3a" stroke-width="0.8"/>
<rect x="330.9" y="280" width="2.6" height="5.6" fill="#2a2a2a"/>
<rect x="336" y="282.4" width="2.6" height="5.6" fill="#2a2a2a"/>
<rect x="318.5" y="273.4" width="3.6" height="7.2" fill="#222"/>
<ellipse cx="320.3" cy="277" rx="2" ry="3.6" fill="#222"/>
<line x1="319.8" y1="696.4" x2="344.1" y2="708.8" stroke="#3a3a3a" stroke-width="0.8"/>
<line x1="320.8" y1="694.6" x2="345.1" y2="707" stroke="#3a3a3a" stroke-width="0.8"/>
<rect x="329.2" y="697.9" width="2.6" height="5.6" fill="#2a2a2a"/>
<rect x="333.6" y="700.1" width="2.6" height="5.6" fill="#2a2a2a"/>
<rect x="318.5" y="691.9" width="3.6" height="7.2" fill="#222"/>
<ellipse cx="320.3" cy="695.5" rx="2" ry="3.6" fill="#222"/>
<line x1="544.3" y1="403.7" x2="519" y2="388.3" stroke="#3a3a3a" stroke-width="0.8"/>
<line x1="543.3" y1="405.5" x2="518" y2="390.1" stroke="#3a3a3a" stroke-width="0.8"/>
<rect x="531.9" y="395.3" width="2.6" height="5.6" fill="#2a2a2a"/>
<rect x="527.3" y="392.6" width="2.6" height="5.6" fill="#2a2a2a"/>
<rect x="542" y="401" width="3.6" height="7.2" fill="#222"/>
<line x1="544.7" y1="821.7" x2="519" y2="808" stroke="#3a3a3a" stroke-width="0.8"/>
<line x1="543.7" y1="823.5" x2="518" y2="809.8" stroke="#3a3a3a" stroke-width="0.8"/>
<rect x="532.1" y="814" width="2.6" height="5.6" fill="#2a2a2a"/>
<rect x="527.5" y="811.6" width="2.6" height="5.6" fill="#2a2a2a"/>
<rect x="542.4" y="819" width="3.6" height="7.2" fill="#222"/>
<line x1="624.2" y1="447.4" x2="649.7" y2="460.4" stroke="#3a3a3a" stroke-width="0.8"/>
<line x1="625.2" y1="445.6" x2="650.7" y2="458.6" stroke="#3a3a3a" stroke-width="0.8"/>
<rect x="634.1" y="449.2" width="2.6" height="5.6" fill="#2a2a2a"/>
<rect x="638.7" y="451.5" width="2.6" height="5.6" fill="#2a2a2a"/>
<rect x="622.9" y="442.9" width="3.6" height="7.2" fill="#222"/>
<ellipse cx="624.7" cy="446.5" rx="2" ry="3.6" fill="#222"/>
<line x1="624.3" y1="866.1" x2="649.9" y2="880.8" stroke="#3a3a3a" stroke-width="0.8"/>
<line x1="625.3" y1="864.3" x2="650.9" y2="879" stroke="#3a3a3a" stroke-width="0.8"/>
<rect x="634.3" y="868.6" width="2.6" height="5.6" fill="#2a2a2a"/>
<rect x="638.9" y="871.2" width="2.6" height="5.6" fill="#2a2a2a"/>
<rect x="623" y="861.6" width="3.6" height="7.2" fill="#222"/>
<ellipse cx="624.8" cy="865.2" rx="2" ry="3.6" fill="#222"/>
<line x1="1235.3" y1="476.9" x2="1210" y2="491.1" stroke="#3a3a3a" stroke-width="0.8"/>
<line x1="1236.3" y1="478.7" x2="1211" y2="492.9" stroke="#3a3a3a" stroke-width="0.8"/>
<rect x="1223.9" y="481" width="2.6" height="5.6" fill="#2a2a2a"/>
<rect x="1219.3" y="483.5" width="2.6" height="5.6" fill="#2a2a2a"/>
<rect x="1234" y="474.2" width="3.6" height="7.2" fill="#222"/>
<line x1="1235" y1="895.6" x2="1210.6" y2="907.6" stroke="#3a3a3a" stroke-width="0.8"/>
<line x1="1235.8" y1="897.4" x2="1211.4" y2="909.4" stroke="#3a3a3a" stroke-width="0.8"/>
<rect x="1223.9" y="898.7" width="2.6" height="5.6" fill="#2a2a2a"/>
<rect x="1219.5" y="900.9" width="2.6" height="5.6" fill="#2a2a2a"/>
<rect x="1233.6" y="892.9" width="3.6" height="7.2" fill="#222"/>
<line x1="809.5" y1="553.5" x2="834.2" y2="568" stroke="#444" stroke-width="1"/>
<circle cx="834.2" cy="568" r="2" fill="#1c1c1c"/>
<rect x="823.8" y="560.9" width="2" height="3.2" fill="#333"/>
<rect x="819.8" y="558.7" width="1.6" height="2.6" fill="#555"/>
<line x1="809.5" y1="970" x2="834" y2="984" stroke="#444" stroke-width="1"/>
<circle cx="834" cy="984" r="2" fill="#1c1c1c"/>
<rect x="823.7" y="977.1" width="2" height="3.2" fill="#333"/>
<rect x="819.7" y="975" width="1.6" height="2.6" fill="#555"/>
<line x1="1037" y1="593" x2="1020.5" y2="602.6" stroke="#444" stroke-width="1"/>
<circle cx="1020.5" cy="602.6" r="1.7" fill="#1c1c1c"/>
<line x1="1020.5" y1="602.6" x2="1027.1" y2="598.8" stroke="#333" stroke-width="1.8"/>
<line x1="1037" y1="1009.6" x2="1021.7" y2="1018.4" stroke="#444" stroke-width="1"/>
<circle cx="1021.7" cy="1018.4" r="1.7" fill="#1c1c1c"/>
<line x1="1021.7" y1="1018.4" x2="1027.8" y2="1014.9" stroke="#333" stroke-width="1.8"/>
<circle cx="919.5" cy="595.4" r="2.1" fill="#1c1c1c"/>
<circle cx="910.3" cy="601.2" r="1.5" fill="#1c1c1c"/>
<line x1="906" y1="604" x2="919.5" y2="595.4" stroke="#444" stroke-width="1"/>
<line x1="906" y1="611" x2="916.4" y2="611.6" stroke="#444" stroke-width="1.2"/>
<circle cx="916.4" cy="611.6" r="1.7" fill="#1c1c1c"/>
<circle cx="918.7" cy="1006.3" r="2.1" fill="#1c1c1c"/>
<circle cx="911.6" cy="1010.7" r="1.5" fill="#1c1c1c"/>
<line x1="906" y1="1014" x2="918.7" y2="1006.3" stroke="#444" stroke-width="1"/>
<line x1="906" y1="1020.6" x2="915.4" y2="1021.7" stroke="#444" stroke-width="1.2"/>
<circle cx="915.4" cy="1021.7" r="1.7" fill="#1c1c1c"/>
<circle cx="993.6" cy="596" r="2.1" fill="#1c1c1c"/>
<circle cx="1002.4" cy="600.6" r="1.5" fill="#1c1c1c"/>
<line x1="993.6" y1="596" x2="1007" y2="603" stroke="#444" stroke-width="1"/>
<line x1="996" y1="612.4" x2="1006.8" y2="611" stroke="#444" stroke-width="1.2"/>
<circle cx="996" cy="612.4" r="1.7" fill="#1c1c1c"/>
<circle cx="993" cy="1006.8" r="2.1" fill="#1c1c1c"/>
<circle cx="1001.2" cy="1011.2" r="1.5" fill="#1c1c1c"/>
<line x1="993" y1="1006.8" x2="1006.8" y2="1014" stroke="#444" stroke-width="1"/>
<line x1="996.8" y1="1022.8" x2="1006.8" y2="1021" stroke="#444" stroke-width="1.2"/>
<circle cx="996.8" cy="1022.8" r="1.7" fill="#1c1c1c"/>
<polygon points="260.2,782.2 262.4,780.2 276,786.7 276,790.7 273.7,792.2 260.2,786.2" fill="#fff" stroke="#1c1c1c" stroke-width="1.2"/>
<line x1="260.7" y1="784" x2="274.2" y2="790.2" stroke="#555" stroke-width="0.8"/>
<line x1="261.7" y1="782.2" x2="275.2" y2="788.4" stroke="#777" stroke-width="0.7"/>
<polygon points="266.2,790.7 269.2,789.2 277.7,793.2 278.4,797.7 274.7,800.2 266.7,796.2" fill="#6a6a6a" stroke="#1c1c1c" stroke-width="1.4"/>
<polygon points="275.2,794.2 277.5,793.8 277.7,797.2 275.2,798.6" fill="#fff" stroke="none" stroke-width="0"/>
<polygon points="269.7,791.2 272.7,792.7 272.7,794 269.7,792.5" fill="#f4f4f4" stroke="none" stroke-width="0"/>
<polyline points="269.2,792.2 274.7,795.2 274.7,799.7" fill="none" stroke="#333" stroke-width="1"/>
<line x1="266.7" y1="792.7" x2="269.7" y2="794.2" stroke="#1c1c1c" stroke-width="2.2"/>
<circle cx="275" cy="799.4" r="1.5" fill="#1c1c1c"/>
<polygon points="1276.8,948.8 1274.6,946.8 1261,953.3 1261,957.3 1263.3,958.8 1276.8,952.8" fill="#fff" stroke="#1c1c1c" stroke-width="1.2"/>
<line x1="1276.3" y1="950.6" x2="1262.8" y2="956.8" stroke="#555" stroke-width="0.8"/>
<line x1="1275.3" y1="948.8" x2="1261.8" y2="955" stroke="#777" stroke-width="0.7"/>
<polygon points="1270.8,957.3 1267.8,955.8 1259.3,959.8 1258.6,964.3 1262.3,966.8 1270.3,962.8" fill="#6a6a6a" stroke="#1c1c1c" stroke-width="1.4"/>
<polygon points="1261.8,960.8 1259.5,960.4 1259.3,963.8 1261.8,965.2" fill="#fff" stroke="none" stroke-width="0"/>
<polygon points="1267.3,957.8 1264.3,959.3 1264.3,960.6 1267.3,959.1" fill="#f4f4f4" stroke="none" stroke-width="0"/>
<polyline points="1267.8,958.8 1262.3,961.8 1262.3,966.3" fill="none" stroke="#333" stroke-width="1"/>
<line x1="1270.3" y1="959.3" x2="1267.3" y2="960.8" stroke="#1c1c1c" stroke-width="2.2"/>
<circle cx="1262" cy="966" r="1.5" fill="#1c1c1c"/>
<line x1="578.5" y1="967" x2="591.5" y2="974.8" stroke="#1e1e1e" stroke-width="4.6" stroke-linecap="round"/>
<polyline points="585.2,968.5 585.2,963.6 588,962.2 591.2,963.2 592.6,968.5 593.8,972 593.8,975.6 591,977" fill="#fff" stroke="#1e1e1e" stroke-width="1.5" stroke-linejoin="round"/>
<line x1="588.3" y1="963" x2="588.8" y2="970" stroke="#1e1e1e" stroke-width="1.2"/>
<line x1="590.2" y1="970.5" x2="593" y2="972.2" stroke="#1e1e1e" stroke-width="2.2"/>
<line x1="580" y1="968.6" x2="589" y2="974" stroke="#bbb" stroke-width="0.8" stroke-dasharray="1.5 1.5"/>
<polygon points="899.6,1039.2 902.6,1038 902.6,1049.5 899.6,1049.5" fill="#858585" stroke="#444" stroke-width="0.8"/>
<polygon points="898.9,1049.2 904.9,1048.4 905.7,1052.6 899.5,1053.8" fill="#fff" stroke="#2a2a2a" stroke-width="1.1"/>
<line x1="898.9" y1="1049.2" x2="902.3" y2="1050.3" stroke="#2a2a2a" stroke-width="1"/>
<polygon points="1010,1039.6 1013,1038.4 1013,1049.9 1010,1049.9" fill="#858585" stroke="#444" stroke-width="0.8"/>
<polygon points="1013.7,1049.6 1007.7,1048.8 1006.9,1053 1013.1,1054.2" fill="#fff" stroke="#2a2a2a" stroke-width="1.1"/>
<line x1="1013.7" y1="1049.6" x2="1010.3" y2="1050.7" stroke="#2a2a2a" stroke-width="1"/>
<line x1="156.7" y1="25" x2="166.7" y2="108" stroke="#555" stroke-width="1"/>
<line x1="291.7" y1="63.5" x2="266.7" y2="110" stroke="#555" stroke-width="1"/>
<line x1="292.5" y1="64.5" x2="269.5" y2="113.3" stroke="#555" stroke-width="1"/>
<line x1="308.3" y1="93.3" x2="271.7" y2="138.3" stroke="#555" stroke-width="1"/>
<line x1="207.8" y1="119.3" x2="184.9" y2="194.6" stroke="#555" stroke-width="1"/>
<line x1="225.8" y1="160.9" x2="195.3" y2="189.8" stroke="#555" stroke-width="1"/>
<line x1="340.8" y1="144.1" x2="340.8" y2="190.6" stroke="#555" stroke-width="1"/>
<line x1="383.3" y1="146.7" x2="350" y2="171.7" stroke="#555" stroke-width="1"/>
<line x1="408.3" y1="165" x2="353.3" y2="195" stroke="#555" stroke-width="1"/>
<line x1="452.7" y1="196.7" x2="442.7" y2="256" stroke="#555" stroke-width="1"/>
<line x1="304.3" y1="202.6" x2="289" y2="247.5" stroke="#555" stroke-width="1"/>
<line x1="334.5" y1="246" x2="320.5" y2="275.6" stroke="#555" stroke-width="1"/>
<line x1="336" y1="246" x2="324" y2="277.5" stroke="#555" stroke-width="1"/>
<line x1="317.6" y1="343" x2="332.9" y2="284.5" stroke="#555" stroke-width="1"/>
<line x1="317.6" y1="343" x2="337.7" y2="286.9" stroke="#555" stroke-width="1"/>
<line x1="113.3" y1="277.7" x2="166.7" y2="260" stroke="#555" stroke-width="1"/>
<line x1="426.7" y1="290" x2="432.3" y2="318.3" stroke="#555" stroke-width="1"/>
<line x1="124" y1="440.6" x2="349.7" y2="419.9" stroke="#555" stroke-width="1"/>
<line x1="124" y1="494.3" x2="268.3" y2="460.6" stroke="#555" stroke-width="1"/>
<line x1="100" y1="677.7" x2="437.3" y2="578.3" stroke="#555" stroke-width="1"/>
<line x1="100" y1="677.7" x2="713.3" y2="784.7" stroke="#555" stroke-width="1"/>
<line x1="183.6" y1="758.4" x2="260.4" y2="737.8" stroke="#555" stroke-width="1"/>
<line x1="165" y1="859" x2="266.7" y2="792.3" stroke="#555" stroke-width="1"/>
<line x1="287" y1="826" x2="346" y2="790" stroke="#555" stroke-width="1"/>
<line x1="340" y1="894" x2="404" y2="813" stroke="#555" stroke-width="1"/>
<line x1="401" y1="944" x2="433" y2="890" stroke="#555" stroke-width="1"/>
<line x1="480.8" y1="966" x2="512" y2="886.4" stroke="#555" stroke-width="1"/>
<line x1="570" y1="222.7" x2="521.7" y2="290" stroke="#555" stroke-width="1"/>
<line x1="496" y1="248" x2="513.6" y2="268" stroke="#555" stroke-width="1"/>
<line x1="533" y1="300.6" x2="584" y2="292.4" stroke="#555" stroke-width="1"/>
<line x1="584" y1="292.4" x2="643" y2="359" stroke="#555" stroke-width="1"/>
<line x1="716" y1="292.4" x2="657" y2="365" stroke="#555" stroke-width="1"/>
<line x1="553.6" y1="355.6" x2="543.6" y2="403" stroke="#555" stroke-width="1"/>
<line x1="723" y1="347" x2="713" y2="404" stroke="#555" stroke-width="1"/>
<line x1="599" y1="386" x2="609.4" y2="428" stroke="#555" stroke-width="1"/>
<line x1="781.7" y1="378.3" x2="804" y2="429.6" stroke="#555" stroke-width="1"/>
<line x1="855" y1="395" x2="806" y2="450" stroke="#555" stroke-width="1"/>
<line x1="688" y1="434" x2="692" y2="461" stroke="#555" stroke-width="1"/>
<line x1="876" y1="437" x2="821" y2="462" stroke="#555" stroke-width="1"/>
<line x1="740" y1="471" x2="655.6" y2="596" stroke="#555" stroke-width="1"/>
<line x1="527" y1="397" x2="544" y2="470" stroke="#555" stroke-width="1"/>
<line x1="531.4" y1="400" x2="544.5" y2="470" stroke="#555" stroke-width="1"/>
<line x1="861" y1="504" x2="834.4" y2="567" stroke="#555" stroke-width="1"/>
<line x1="884.4" y1="532.4" x2="898" y2="596" stroke="#555" stroke-width="1"/>
<line x1="959" y1="537" x2="909.6" y2="601" stroke="#555" stroke-width="1"/>
<line x1="961" y1="574" x2="920" y2="595" stroke="#555" stroke-width="1"/>
<line x1="822" y1="564" x2="838" y2="618" stroke="#555" stroke-width="1"/>
<line x1="511.7" y1="506.7" x2="555" y2="615" stroke="#555" stroke-width="1"/>
<line x1="861" y1="651" x2="915" y2="612.4" stroke="#555" stroke-width="1"/>
<line x1="958" y1="653" x2="929.6" y2="617" stroke="#555" stroke-width="1"/>
<line x1="958" y1="653" x2="983" y2="617" stroke="#555" stroke-width="1"/>
<line x1="803" y1="668" x2="856" y2="712" stroke="#555" stroke-width="1"/>
<line x1="618" y1="911" x2="652" y2="955" stroke="#555" stroke-width="1"/>
<line x1="588" y1="976" x2="572" y2="1047" stroke="#555" stroke-width="1"/>
<line x1="646" y1="1063" x2="709" y2="985" stroke="#555" stroke-width="1"/>
<line x1="729.3" y1="1058.3" x2="705" y2="1102.3" stroke="#555" stroke-width="1"/>
<line x1="808.6" y1="1046.4" x2="846" y2="1089.8" stroke="#555" stroke-width="1"/>
<line x1="904.4" y1="1052" x2="941.8" y2="1126.8" stroke="#555" stroke-width="1"/>
<line x1="1013.4" y1="1052" x2="1051.9" y2="1109" stroke="#555" stroke-width="1"/>
<line x1="1365.7" y1="245" x2="1355" y2="328.3" stroke="#555" stroke-width="1"/>
<line x1="1221.6" y1="306" x2="1264" y2="416" stroke="#555" stroke-width="1"/>
<line x1="1163" y1="341.6" x2="1205" y2="398" stroke="#555" stroke-width="1"/>
<line x1="1303" y1="361.6" x2="1268" y2="389.6" stroke="#555" stroke-width="1"/>
<line x1="1303" y1="363" x2="1272" y2="388" stroke="#555" stroke-width="1"/>
<line x1="1127.6" y1="489" x2="1123" y2="519" stroke="#555" stroke-width="1"/>
<line x1="1106" y1="716.7" x2="1395" y2="745" stroke="#555" stroke-width="1"/>
<line x1="1277" y1="904" x2="1322" y2="923" stroke="#555" stroke-width="1"/>
<line x1="1271.7" y1="959.7" x2="1331.7" y2="991.7" stroke="#555" stroke-width="1"/>
<line x1="1209.3" y1="949" x2="1260" y2="1015.7" stroke="#555" stroke-width="1"/>
<g opacity="0.999">
<text class="t" x="131" y="20.8" textLength="71.8" lengthAdjust="spacingAndGlyphs">47105 L</text>
<text class="t" x="290.7" y="69.1" textLength="33.1" lengthAdjust="spacingAndGlyphs">N15</text>
<text class="t" x="308.2" y="99.8" textLength="111" lengthAdjust="spacingAndGlyphs">45104 BG R</text>
<text class="t" x="188.9" y="115.7" textLength="33.4" lengthAdjust="spacingAndGlyphs">N21</text>
<text class="t" x="207.6" y="156.9" textLength="45.4" lengthAdjust="spacingAndGlyphs">9264</text>
<text class="t" x="316.2" y="141.7" textLength="54.6" lengthAdjust="spacingAndGlyphs">47122</text>
<text class="t" x="380.9" y="146" textLength="33.4" lengthAdjust="spacingAndGlyphs">N15</text>
<text class="t" x="407.8" y="170.5" textLength="74.8" lengthAdjust="spacingAndGlyphs">47107 R</text>
<text class="t" x="421" y="196.2" textLength="75.2" lengthAdjust="spacingAndGlyphs">46102 A</text>
<text class="t" x="273.2" y="199.7" textLength="54.8" lengthAdjust="spacingAndGlyphs">47102</text>
<text class="t" x="322.8" y="243.4" textLength="40" lengthAdjust="spacingAndGlyphs">8211</text>
<text class="t" x="487.1" y="248.2" textLength="33.4" lengthAdjust="spacingAndGlyphs">N15</text>
<text class="t" x="35.8" y="286.5" textLength="75.2" lengthAdjust="spacingAndGlyphs">46107 A</text>
<text class="t" x="405" y="286.7" textLength="52.2" lengthAdjust="spacingAndGlyphs">47114</text>
<text class="t" x="294.7" y="364.1" textLength="38.6" lengthAdjust="spacingAndGlyphs">N08</text>
<text class="t" x="46.8" y="449.1" textLength="72.4" lengthAdjust="spacingAndGlyphs">46101 A</text>
<text class="t" x="47.8" y="504.1" textLength="75.4" lengthAdjust="spacingAndGlyphs">46103 A</text>
<text class="t" x="1.8" y="680.8" textLength="97.4" lengthAdjust="spacingAndGlyphs">47121 ESG</text>
<text class="t" x="1" y="708.1" textLength="89.2" lengthAdjust="spacingAndGlyphs">45103 PS</text>
<text class="t" x="74" y="767.5" textLength="107.8" lengthAdjust="spacingAndGlyphs">45104 BG L</text>
<text class="t" x="116" y="881.5" textLength="69" lengthAdjust="spacingAndGlyphs">47111 R</text>
<text class="t" x="250.8" y="845.8" textLength="73.4" lengthAdjust="spacingAndGlyphs">47107 L</text>
<text class="t" x="305" y="914.1" textLength="75" lengthAdjust="spacingAndGlyphs">46102 A</text>
<text class="t" x="381.8" y="961.5" textLength="55" lengthAdjust="spacingAndGlyphs">47104</text>
<text class="t" x="436" y="986.5" textLength="111.6" lengthAdjust="spacingAndGlyphs">45104 BG R</text>
<text class="t" x="535" y="219.1" textLength="110" lengthAdjust="spacingAndGlyphs">45104 BG L</text>
<text class="t" x="561" y="289.1" textLength="55.8" lengthAdjust="spacingAndGlyphs">47122</text>
<text class="t" x="686.8" y="289.1" textLength="76" lengthAdjust="spacingAndGlyphs">47107 R</text>
<text class="t" x="690.8" y="344.1" textLength="76" lengthAdjust="spacingAndGlyphs">46102 A</text>
<text class="t" x="537.9" y="354.1" textLength="41.3" lengthAdjust="spacingAndGlyphs">8211</text>
<text class="t" x="763.9" y="377.5" textLength="33.2" lengthAdjust="spacingAndGlyphs">N15</text>
<text class="t" x="583.2" y="385.3" textLength="55" lengthAdjust="spacingAndGlyphs">47102</text>
<text class="t" x="833.2" y="389.1" textLength="51.8" lengthAdjust="spacingAndGlyphs">47113</text>
<text class="t" x="665" y="431.3" textLength="52" lengthAdjust="spacingAndGlyphs">47114</text>
<text class="t" x="864.2" y="433.5" textLength="55" lengthAdjust="spacingAndGlyphs">47122</text>
<text class="t" x="710.6" y="470.8" textLength="72.4" lengthAdjust="spacingAndGlyphs">46101 A</text>
<text class="t" x="527.9" y="485.8" textLength="38.2" lengthAdjust="spacingAndGlyphs">N08</text>
<text class="t" x="845.6" y="504.3" textLength="40.8" lengthAdjust="spacingAndGlyphs">8211</text>
<text class="t" x="863.6" y="530.8" textLength="73.4" lengthAdjust="spacingAndGlyphs">46112 A</text>
<text class="t" x="944.3" y="535.8" textLength="36.8" lengthAdjust="spacingAndGlyphs">N22</text>
<text class="t" x="963" y="577.8" textLength="47" lengthAdjust="spacingAndGlyphs">9264</text>
<text class="t" x="821.9" y="633.8" textLength="38.2" lengthAdjust="spacingAndGlyphs">N08</text>
<text class="t" x="526" y="642.5" textLength="75.8" lengthAdjust="spacingAndGlyphs">46100 A</text>
<text class="t" x="848.3" y="671.8" textLength="32.8" lengthAdjust="spacingAndGlyphs">N12</text>
<text class="t" x="934.4" y="671.8" textLength="42.7" lengthAdjust="spacingAndGlyphs">6310</text>
<text class="t" x="815" y="734.1" textLength="75" lengthAdjust="spacingAndGlyphs">46105 A</text>
<text class="t" x="581" y="907.8" textLength="74" lengthAdjust="spacingAndGlyphs">47107 L</text>
<text class="t" x="545.6" y="1069.2" textLength="55.4" lengthAdjust="spacingAndGlyphs">47109</text>
<text class="t" x="610" y="1084.8" textLength="76" lengthAdjust="spacingAndGlyphs">46102 A</text>
<text class="t" x="679.2" y="1123.1" textLength="56" lengthAdjust="spacingAndGlyphs">47104</text>
<text class="t" x="847.8" y="1097.8" textLength="53.2" lengthAdjust="spacingAndGlyphs">47113</text>
<text class="t" x="903.2" y="1148.5" textLength="75.8" lengthAdjust="spacingAndGlyphs">47123 R</text>
<text class="t" x="1021.8" y="1129.8" textLength="71.6" lengthAdjust="spacingAndGlyphs">47123 L</text>
<text class="t" x="1336" y="240.1" textLength="75.8" lengthAdjust="spacingAndGlyphs">47105 R</text>
<text class="t" x="1177.4" y="304.4" textLength="109" lengthAdjust="spacingAndGlyphs">45104 BG L</text>
<text class="t" x="1117.2" y="334.2" textLength="73.8" lengthAdjust="spacingAndGlyphs">47107 L</text>
<text class="t" x="1298.9" y="361.2" textLength="33.2" lengthAdjust="spacingAndGlyphs">N15</text>
<text class="t" x="1103.4" y="487.2" textLength="53" lengthAdjust="spacingAndGlyphs">47114</text>
<text class="t" x="1397.2" y="753.5" textLength="97" lengthAdjust="spacingAndGlyphs">47121 ESG</text>
<text class="t" x="1397.2" y="780.8" textLength="89.8" lengthAdjust="spacingAndGlyphs">45103 PS</text>
<text class="t" x="1325.4" y="935.2" textLength="111.6" lengthAdjust="spacingAndGlyphs">45104 BG R</text>
<text class="t" x="1313.2" y="1010.5" textLength="66" lengthAdjust="spacingAndGlyphs">47111 L</text>
<text class="t" x="1233.2" y="1036.5" textLength="75" lengthAdjust="spacingAndGlyphs">47107 R</text>
<text class="tf" x="379.4" y="374.2" textLength="36.1" lengthAdjust="spacingAndGlyphs">F21</text>
<text class="tf" x="701.3" y="563.6" textLength="37.8" lengthAdjust="spacingAndGlyphs">F22</text>
<text class="tf" x="1136.9" y="568" textLength="31.2" lengthAdjust="spacingAndGlyphs">F11</text>
<text class="ttl" x="875.3" y="246.8" textLength="35" lengthAdjust="spacingAndGlyphs">V2</text>
<text class="ttl" x="920.2" y="246.8" textLength="48" lengthAdjust="spacingAndGlyphs">TS2</text>
</g>
</svg>
</body></html>
